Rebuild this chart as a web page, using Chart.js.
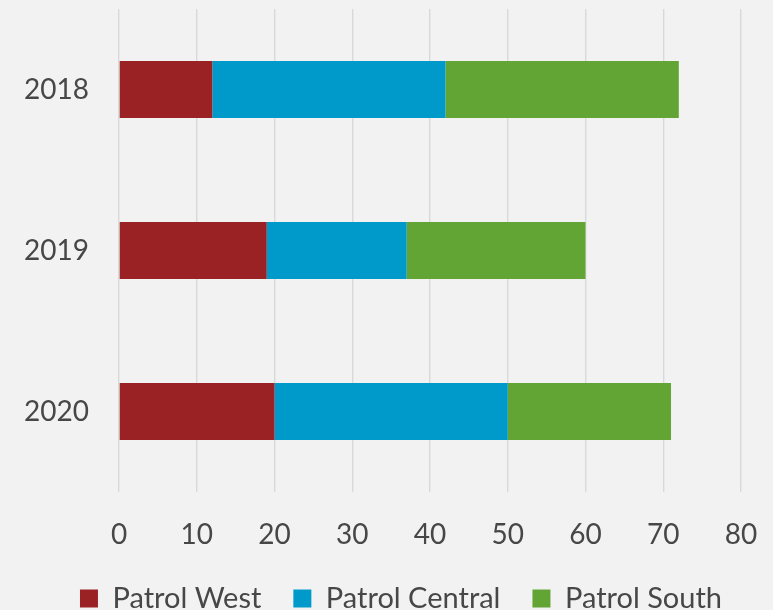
<!DOCTYPE html>
<html>
<head>
<meta charset="utf-8">
<script src="https://cdn.jsdelivr.net/npm/chart.js@4/dist/chart.umd.min.js"></script>
<style>
  html, body { margin: 0; padding: 0; background: #f2f2f2; overflow: hidden; }
  #wrap { width: 773px; height: 610px; overflow: hidden; }
  canvas { display: block; }
</style>
</head>
<body>
<div id="wrap"><canvas id="c" width="773" height="623"></canvas></div>
<script>
const categories = ["2018", "2019", "2020"];
const seriesNames = ["Patrol West", "Patrol Central", "Patrol South"];
const patrolWest = [12, 19, 20];
const patrolCentral = [30, 18, 30];
const patrolSouth = [30, 23, 21];
const xTicks = [0, 10, 20, 30, 40, 50, 60, 70, 80];

const colors = ["#9a2224", "#009aca", "#62a534"];
const textColor = "#474747";
const fontFamily = "Lato, 'Open Sans', sans-serif";

const bgPlugin = {
  id: "bg",
  beforeDraw(chart) {
    const ctx = chart.ctx;
    ctx.save();
    ctx.fillStyle = "#f2f2f2";
    ctx.fillRect(0, 0, chart.width, chart.height);
    ctx.restore();
  }
};

new Chart(document.getElementById("c"), {
  type: "bar",
  data: {
    labels: categories,
    datasets: [
      { label: seriesNames[0], data: patrolWest, backgroundColor: colors[0] },
      { label: seriesNames[1], data: patrolCentral, backgroundColor: colors[1] },
      { label: seriesNames[2], data: patrolSouth, backgroundColor: colors[2] }
    ]
  },
  options: {
    indexAxis: "y",
    responsive: false,
    animation: false,
    devicePixelRatio: 1,
    datasets: { bar: { categoryPercentage: 1, barPercentage: 0.354, borderWidth: 0 } },
    layout: { padding: { top: 9, right: 0, left: 29, bottom: 0 } },
    scales: {
      x: {
        stacked: true,
        min: 0,
        max: 80,
        afterBuildTicks(axis) { axis.ticks = xTicks.map(v => ({ value: v })); },
        afterFit(axis) { axis.height = 60; axis.paddingLeft = 0; axis.paddingRight = 32; },
        grid: { color: "#d9d9d9", lineWidth: 1.4, drawTicks: true, tickLength: 26, tickColor: "rgba(0,0,0,0)" },
        border: { display: false },
        ticks: { color: textColor, font: { family: fontFamily, size: 28 }, padding: 0, maxRotation: 0 }
      },
      y: {
        stacked: true,
        afterFit(axis) { axis.width = 90; axis.paddingTop = 0; axis.paddingBottom = 0; },
        grid: { display: false, drawTicks: false },
        border: { display: false },
        ticks: { color: textColor, font: { family: fontFamily, size: 28 }, mirror: true, padding: -95 }
      }
    },
    plugins: {
      legend: {
        position: "bottom",
        labels: {
          color: textColor,
          font: { family: fontFamily, size: 29 },
          boxWidth: 18,
          boxHeight: 18,
          padding: 32
        }
      },
      tooltip: { enabled: false }
    }
  },
  plugins: [bgPlugin]
});
</script>
</body>
</html>
